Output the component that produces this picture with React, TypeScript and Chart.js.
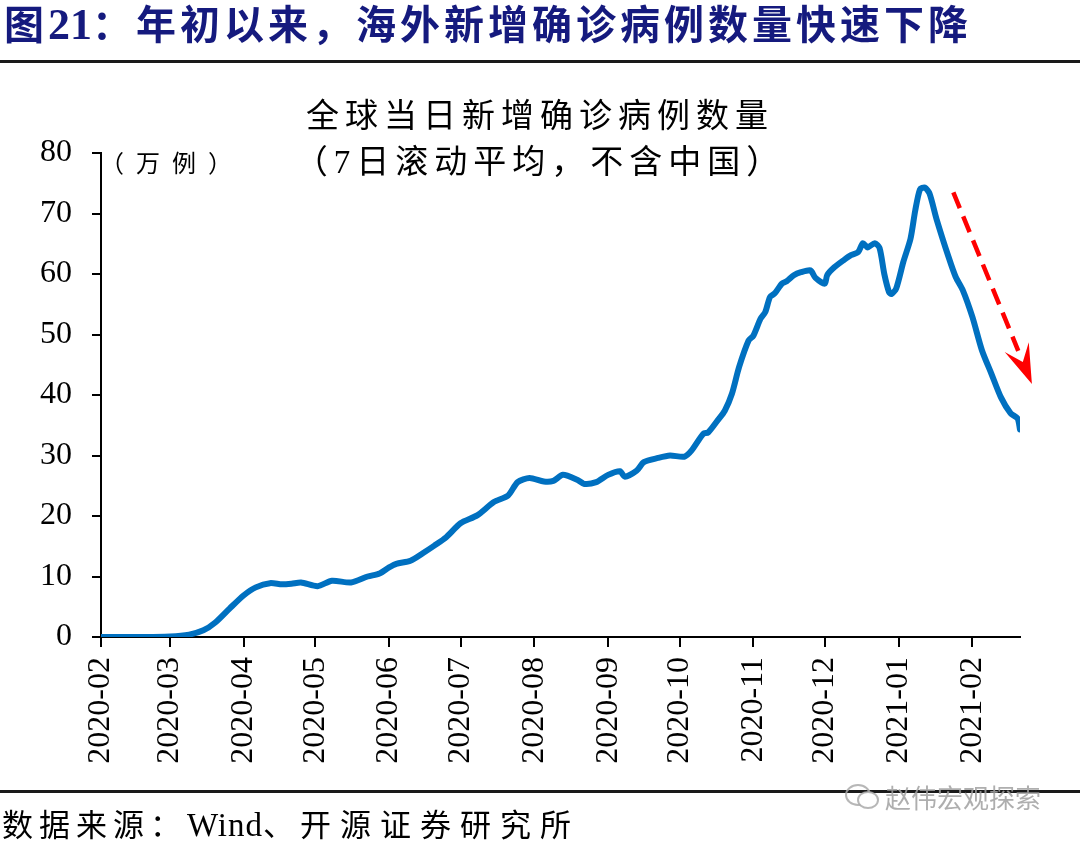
import React, { useEffect, useRef } from "react";
import { Chart, registerables } from "chart.js";

Chart.register(...registerables);

// ---- data (7-day rolling average of new confirmed cases excl. China, 10k cases) ----
const dates: string[] = [
  "2020-02-01", "2020-02-16", "2020-03-01", "2020-03-09", "2020-03-15", "2020-03-20", "2020-03-26",
  "2020-04-01", "2020-04-06", "2020-04-12", "2020-04-17", "2020-04-21", "2020-04-25",
  "2020-05-02", "2020-05-08", "2020-05-16", "2020-05-23", "2020-05-28",
  "2020-06-01", "2020-06-04", "2020-06-10", "2020-06-15", "2020-06-20", "2020-06-25",
  "2020-07-01", "2020-07-08", "2020-07-15", "2020-07-21", "2020-07-25", "2020-07-30",
  "2020-08-05", "2020-08-09", "2020-08-13", "2020-08-19", "2020-08-22", "2020-08-27",
  "2020-09-01", "2020-09-06", "2020-09-08", "2020-09-13", "2020-09-16", "2020-09-22", "2020-09-27",
  "2020-10-03", "2020-10-06", "2020-10-11", "2020-10-13", "2020-10-17", "2020-10-20", "2020-10-23", "2020-10-26", "2020-10-30",
  "2020-11-01", "2020-11-04", "2020-11-06", "2020-11-08", "2020-11-10", "2020-11-13", "2020-11-15", "2020-11-18", "2020-11-21", "2020-11-25", "2020-11-27",
  "2020-12-01", "2020-12-02", "2020-12-05", "2020-12-09", "2020-12-12", "2020-12-15", "2020-12-17", "2020-12-19", "2020-12-22", "2020-12-24", "2020-12-26", "2020-12-28", "2020-12-29", "2020-12-31",
  "2021-01-03", "2021-01-06", "2021-01-08", "2021-01-10", "2021-01-12", "2021-01-14", "2021-01-17", "2021-01-22", "2021-01-25", "2021-01-28",
  "2021-02-01", "2021-02-05", "2021-02-09", "2021-02-13", "2021-02-17", "2021-02-20", "2021-02-21",
];
const newCases: number[] = [
  0, 0, 0.1, 0.4, 1.1, 2.4, 4.7,
  6.9, 8.2, 8.9, 8.7, 8.8, 9.0,
  8.4, 9.3, 9.0, 10.0, 10.5,
  11.5, 12.1, 12.6, 13.8, 15.1, 16.5,
  18.8, 20.1, 22.3, 23.4, 25.6, 26.3,
  25.7, 25.8, 26.8, 26.0, 25.3, 25.6,
  26.8, 27.4, 26.5, 27.5, 28.9, 29.6, 30.0,
  29.8, 30.8, 33.6, 33.8, 35.8, 37.4, 40.2, 44.6, 49.0,
  49.8, 52.6, 53.7, 56.2, 56.8, 58.4, 58.8, 59.8, 60.3, 60.6, 59.4,
  58.4, 59.8, 61.1, 62.3, 63.1, 63.6, 65.1, 64.4, 65.1, 64.3, 60.0, 57.0, 56.7, 57.6,
  62.0, 65.8, 70.5, 74.0, 74.3, 73.3, 69.0, 62.8, 59.5, 57.3,
  52.9, 47.4, 43.5, 39.6, 37.0, 36.1, 34.3,
];
const monthTicks: string[] = [
  "2020-02", "2020-03", "2020-04", "2020-05", "2020-06", "2020-07", "2020-08",
  "2020-09", "2020-10", "2020-11", "2020-12", "2021-01", "2021-02",
];
const yTicks: number[] = [0, 10, 20, 30, 40, 50, 60, 70, 80];
const arrowStart: [string, number] = ["2021-01-24", 73.5];
const arrowEnd: [string, number] = ["2021-02-26", 41.8];

const START = Date.UTC(2020, 1, 1);
const toDay = (s: string) => Math.round((Date.parse(s + "T00:00:00Z") - START) / 86400000);

const SERIF = '"Liberation Serif", "Noto Sans CJK SC", serif';

const arrowPlugin = {
  id: "trendArrow",
  afterDatasetsDraw(chart: any) {
    const { ctx, scales } = chart;
    const x0 = scales.x.getPixelForValue(toDay(arrowStart[0]));
    const y0 = scales.y.getPixelForValue(arrowStart[1]);
    const x1 = scales.x.getPixelForValue(toDay(arrowEnd[0]));
    const y1 = scales.y.getPixelForValue(arrowEnd[1]);
    const dx = x1 - x0, dy = y1 - y0;
    const len = Math.hypot(dx, dy);
    const ux = dx / len, uy = dy / len;
    const nx = -uy, ny = ux;
    const L = 40, W = 13, notch = 16;
    ctx.save();
    ctx.strokeStyle = "#FF0000";
    ctx.fillStyle = "#FF0000";
    ctx.lineWidth = 4.5;
    ctx.setLineDash([17, 9]);
    ctx.beginPath();
    ctx.moveTo(x0, y0);
    ctx.lineTo(x1 - ux * (L - 4), y1 - uy * (L - 4));
    ctx.stroke();
    ctx.setLineDash([]);
    ctx.beginPath();
    ctx.moveTo(x1, y1);
    ctx.lineTo(x1 - ux * L + nx * W, y1 - uy * L + ny * W);
    ctx.lineTo(x1 - ux * (L - notch), y1 - uy * (L - notch));
    ctx.lineTo(x1 - ux * L - nx * W, y1 - uy * L - ny * W);
    ctx.closePath();
    ctx.fill();
    ctx.restore();
  },
};

export default function App() {
  const ref = useRef<HTMLCanvasElement>(null);

  useEffect(() => {
    if (!ref.current) return;
    const points = dates.map((d, i) => ({ x: toDay(d), y: newCases[i] }));
    const chart = new Chart(ref.current, {
      type: "line",
      data: {
        datasets: [
          {
            data: points,
            borderColor: "#0070C0",
            borderWidth: 6,
            pointRadius: 0,
            tension: 0.25,
            fill: false,
            borderCapStyle: "round",
            borderJoinStyle: "round",
          },
        ],
      },
      options: {
        responsive: false,
        devicePixelRatio: 1,
        animation: false,
        layout: { padding: { top: 153, left: 0, right: 60, bottom: 0 } },
        plugins: { legend: { display: false }, tooltip: { enabled: false }, title: { display: false } },
        scales: {
          x: {
            type: "linear",
            min: toDay(monthTicks[0] + "-01"),
            max: toDay(dates[dates.length - 1]),
            afterFit: (s: any) => {
              s.height = 208;
            },
            afterBuildTicks: (s: any) => {
              s.ticks = monthTicks.map((m) => ({ value: toDay(m + "-01") }));
            },
            ticks: {
              autoSkip: false,
              minRotation: 90,
              maxRotation: 90,
              padding: 10,
              color: "#000",
              font: { family: SERIF, size: 32 },
              callback: (v: any) => {
                const idx = monthTicks.findIndex((m) => toDay(m + "-01") === v);
                return idx >= 0 ? monthTicks[idx] : "";
              },
            },
            grid: { display: true, drawOnChartArea: false, drawTicks: true, tickLength: 10, color: "#000", lineWidth: 2 },
            border: { display: true, color: "#000", width: 2 },
          },
          y: {
            min: 0,
            max: 80,
            afterFit: (s: any) => {
              s.width = 101;
            },
            afterBuildTicks: (s: any) => {
              s.ticks = yTicks.map((v) => ({ value: v }));
            },
            ticks: {
              padding: 20,
              color: "#000",
              font: { family: SERIF, size: 32 },
            },
            grid: { display: true, drawOnChartArea: false, drawTicks: true, tickLength: 9, color: "#000", lineWidth: 2 },
            border: { display: true, color: "#000", width: 2 },
          },
        },
      },
      plugins: [arrowPlugin],
    } as any);
    return () => chart.destroy();
  }, []);

  return (
    <div style={{ position: "absolute", left: 0, top: 0, width: 1080, height: 845, background: "#fff", overflow: "hidden" }}>
      <canvas ref={ref} width={1080} height={845} style={{ position: "absolute", left: 0, top: 0 }} />
      <div
        style={{
          position: "absolute", left: 4, top: 2, fontFamily: SERIF, fontWeight: "bold", fontSize: 40,
          letterSpacing: 4, lineHeight: "46px", color: "#151A7E", whiteSpace: "nowrap",
        }}
      >
        图<span style={{ fontSize: 44, letterSpacing: 0 }}>21</span>：年初以来，海外新增确诊病例数量快速下降
      </div>
      <div style={{ position: "absolute", left: 0, top: 60, width: 1080, height: 3, background: "#1a1a1a" }} />
      <div
        style={{
          position: "absolute", left: 0, top: 93, width: 1080, textAlign: "center", fontFamily: SERIF,
          fontSize: 33, letterSpacing: 6, lineHeight: "46px", color: "#000", whiteSpace: "nowrap",
        }}
      >
        <div>全球当日新增确诊病例数量</div>
        <div>（7日滚动平均，不含中国）</div>
      </div>
      <div
        style={{
          position: "absolute", left: 100, top: 150, fontFamily: SERIF, fontSize: 24, letterSpacing: 3,
          lineHeight: "28px", color: "#000", whiteSpace: "nowrap", wordSpacing: 0,
        }}
      >
        （ 万 例 ）
      </div>
      <div style={{ position: "absolute", left: 0, top: 790, width: 1080, height: 3, background: "#1a1a1a" }} />
      <div
        style={{
          position: "absolute", left: 843, top: 781, display: "flex", alignItems: "center",
          color: "rgba(160,160,160,0.85)", fontFamily: '"Noto Sans CJK SC", sans-serif', fontSize: 26,
          whiteSpace: "nowrap", lineHeight: "32px",
        }}
      >
        <svg width="40" height="30" viewBox="0 0 40 30" style={{ marginRight: 2 }}>
          <ellipse cx="15" cy="13" rx="12" ry="10" fill="none" stroke="rgba(170,170,170,0.85)" strokeWidth="2" />
          <ellipse cx="25" cy="18" rx="10" ry="8" fill="#fff" stroke="rgba(170,170,170,0.85)" strokeWidth="2" />
        </svg>
        赵伟宏观探索
      </div>
      <div
        style={{
          position: "absolute", left: 2, top: 806, fontFamily: SERIF, fontSize: 31, letterSpacing: 6,
          lineHeight: "38px", color: "#000", whiteSpace: "nowrap",
        }}
      >
        数据来源：<span style={{ letterSpacing: 1, fontSize: 33 }}>Wind</span>、<span style={{ letterSpacing: 9 }}>开源证券研究所</span>
      </div>
    </div>
  );
}
